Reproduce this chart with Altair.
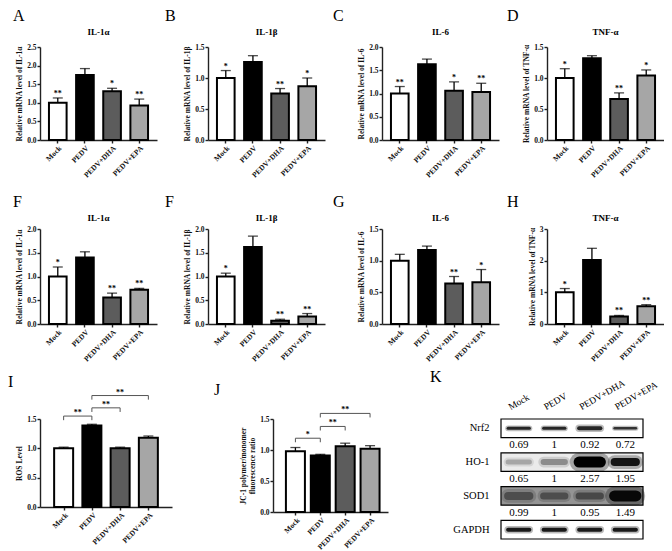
import json
import altair as alt
import pandas as pd

SERIF = "Liberation Serif"

groups = ["Mock", "PEDV", "PEDV+DHA", "PEDV+EPA"]
bar_fill = ["#ffffff", "#000000", "#5c5c5c", "#a6a6a6"]

# ---- Row 1 (A-D) ----
A_mean = [1.00, 1.75, 1.31, 0.93]
A_sd = [0.13, 0.17, 0.08, 0.17]
A_sig = ["**", "", "*", "**"]

B_mean = [1.00, 1.26, 0.75, 0.865]
B_sd = [0.12, 0.10, 0.08, 0.135]
B_sig = ["*", "", "**", "*"]

C_mean = [1.00, 1.63, 1.06, 1.03]
C_sd = [0.15, 0.11, 0.19, 0.19]
C_sig = ["**", "", "*", "**"]

D_mean = [1.00, 1.32, 0.66, 1.04]
D_sd = [0.15, 0.04, 0.10, 0.09]
D_sig = ["*", "", "**", "*"]

# ---- Row 2 (E-H) ----
E_mean = [1.00, 1.40, 0.56, 0.72]
E_sd = [0.20, 0.12, 0.09, 0.03]
E_sig = ["*", "", "**", "**"]

F_mean = [1.00, 1.62, 0.07, 0.16]
F_sd = [0.07, 0.23, 0.03, 0.06]
F_sig = ["*", "", "**", "**"]

G_mean = [1.00, 1.17, 0.64, 0.66]
G_sd = [0.10, 0.06, 0.11, 0.20]
G_sig = ["", "", "**", "*"]

H_mean = [1.00, 2.02, 0.24, 0.56]
H_sd = [0.12, 0.37, 0.03, 0.05]
H_sig = ["*", "", "**", "**"]

# ---- Row 3 ----
I_mean = [1.00, 1.39, 1.00, 1.18]
I_sd = [0.02, 0.02, 0.02, 0.03]
I_from = ["Mock", "PEDV", "PEDV"]
I_to = ["PEDV", "PEDV+DHA", "PEDV+EPA"]
I_level = [1.55, 1.69, 1.90]
I_sig = ["**", "**", "**"]

J_mean = [0.98, 0.91, 1.06, 1.02]
J_sd = [0.06, 0.02, 0.05, 0.05]
J_from = ["Mock", "PEDV", "PEDV"]
J_to = ["PEDV", "PEDV+DHA", "PEDV+EPA"]
J_level = [1.19, 1.38, 1.59]
J_sig = ["*", "**", "**"]

# ---- Western blot (K) ----
proteins = ["Nrf2", "HO-1", "SOD1", "GAPDH"]
Nrf2_ratio = [0.69, 1, 0.92, 0.72]
HO1_ratio = [0.65, 1, 2.57, 1.95]
SOD1_ratio = [0.99, 1, 0.95, 1.49]
Nrf2_dark = [0.85, 0.85, 0.85, 0.80]
HO1_dark = [0.35, 0.45, 1.00, 0.92]
SOD1_dark = [0.70, 0.70, 0.72, 0.97]
GAPDH_dark = [0.90, 0.90, 0.90, 0.90]
Nrf2_thick = [3, 3, 4, 2.5]
HO1_thick = [5, 6, 11, 8]
SOD1_thick = [8, 7, 7, 11]
GAPDH_thick = [4, 4, 4, 4]
blot_background = [0.0, 0.08, 0.42, 0.0]


def grey(level):
    v = int(round(255 * (1 - level)))
    return "#{0:02x}{0:02x}{0:02x}".format(v)


def letter_layer(letter, dx, dy):
    return alt.Chart(pd.DataFrame({"t": [letter]})).mark_text(
        font=SERIF, fontSize=16, align="left", baseline="alphabetic", color="black"
    ).encode(x=alt.value(dx), y=alt.value(dy), text="t:N")


XLAB = dict(title=None, labelAngle=-45, labelAlign="right", labelBaseline="top",
            labelFontSize=7.5, labelPadding=1, labelOverlap=False, labelFlush=False)


def bar_panel(letter, name, ytitle, mean, sd, sig, ymax, yticks, yfmt,
              W, H, letter_dx, letter_dy, name_dy):
    df = pd.DataFrame({"group": groups, "mean": mean,
                       "top": [m + s for m, s in zip(mean, sd)], "sig": sig})
    xscale = alt.Scale(domain=groups, paddingInner=0.35, paddingOuter=0.33)
    xaxis = alt.Axis(**XLAB)
    yscale = alt.Scale(domain=[0, ymax], nice=False, zero=True)
    yaxis = alt.Axis(title=ytitle, values=yticks, format=yfmt, labelOverlap=False)
    base = alt.Chart(df)
    xenc = alt.X("group:N", sort=groups, scale=xscale, axis=xaxis)
    bars = base.mark_bar(stroke="black", strokeWidth=2).encode(
        x=xenc, y=alt.Y("mean:Q", scale=yscale, axis=yaxis),
        fill=alt.Fill("group:N", scale=alt.Scale(domain=groups, range=bar_fill), legend=None))
    err = base.mark_rule(color="black", strokeWidth=1.3).encode(
        x=xenc, y=alt.Y("mean:Q", scale=yscale, axis=yaxis), y2="top:Q")
    cap = base.mark_tick(color="black", thickness=1.3, size=10, orient="horizontal").encode(
        x=xenc, y=alt.Y("top:Q", scale=yscale, axis=yaxis))
    stars = base.mark_text(font=SERIF, fontWeight="bold", fontSize=8,
                           baseline="alphabetic", dy=-2, color="black").encode(
        x=xenc, y=alt.Y("top:Q", scale=yscale, axis=yaxis), text="sig:N")
    ttl = alt.Chart(pd.DataFrame({"t": [name]})).mark_text(
        font=SERIF, fontWeight="bold", fontSize=9, align="center", baseline="alphabetic", color="black"
    ).encode(x=alt.value(W / 2), y=alt.value(name_dy), text="t:N")
    return alt.layer(bars, err, cap, stars, letter_layer(letter, letter_dx, letter_dy), ttl).properties(
        width=W, height=H)


def sig_panel(letter, ytitle, mean, sd, b_from, b_to, b_level, b_sig, W, H,
              xdom, letter_dx, letter_dy, drop):
    df = pd.DataFrame({"idx": list(range(len(groups))), "group": groups, "mean": mean,
                       "top": [m + s for m, s in zip(mean, sd)]})
    i0 = [groups.index(g) for g in b_from]
    i1 = [groups.index(g) for g in b_to]
    br = pd.DataFrame({"a": i0, "b": i1, "h": b_level, "sig": b_sig})
    br["mid"] = (br["a"] + br["b"]) / 2
    br["low"] = br["h"] - drop
    ends = pd.concat([br[["a", "h", "low"]].rename(columns={"a": "x"}),
                      br[["b", "h", "low"]].rename(columns={"b": "x"})])
    expr = json.dumps(groups) + "[datum.value]"
    xscale = alt.Scale(domain=xdom, nice=False, zero=False)
    xaxis = alt.Axis(values=list(range(len(groups))), labelExpr=expr, grid=False, **XLAB)
    yscale = alt.Scale(domain=[0, 1.5], nice=False, zero=True)
    yaxis = alt.Axis(title=ytitle, values=[0, 0.5, 1.0, 1.5], format=".1f", labelOverlap=False)
    xenc = alt.X("idx:Q", scale=xscale, axis=xaxis)
    base = alt.Chart(df)
    bars = base.mark_bar(stroke="black", strokeWidth=2, width=19).encode(
        x=xenc, y=alt.Y("mean:Q", scale=yscale, axis=yaxis),
        fill=alt.Fill("group:N", scale=alt.Scale(domain=groups, range=bar_fill), legend=None))
    err = base.mark_rule(color="black", strokeWidth=1.3).encode(
        x=xenc, y=alt.Y("mean:Q", scale=yscale, axis=yaxis), y2="top:Q")
    cap = base.mark_tick(color="black", thickness=1.3, size=10, orient="horizontal").encode(
        x=xenc, y=alt.Y("top:Q", scale=yscale, axis=yaxis))
    bb = alt.Chart(br)
    hline = bb.mark_rule(color="#555", strokeWidth=1).encode(
        x=alt.X("a:Q", scale=xscale, axis=xaxis), x2="b:Q", y=alt.Y("h:Q", scale=yscale, axis=yaxis))
    vline = alt.Chart(ends).mark_rule(color="#555", strokeWidth=1).encode(
        x=alt.X("x:Q", scale=xscale, axis=xaxis), y=alt.Y("h:Q", scale=yscale, axis=yaxis), y2="low:Q")
    txt = bb.mark_text(font=SERIF, fontWeight="bold", fontSize=8, baseline="alphabetic",
                       dy=-1, color="black").encode(
        x=alt.X("mid:Q", scale=xscale, axis=xaxis), y=alt.Y("h:Q", scale=yscale, axis=yaxis), text="sig:N")
    return alt.layer(bars, err, cap, hline, vline, txt,
                     letter_layer(letter, letter_dx, letter_dy)).properties(width=W, height=H)


def blot_panel(W, H, letter_dx, letter_dy):
    darks = [Nrf2_dark, HO1_dark, SOD1_dark, GAPDH_dark]
    thicks = [Nrf2_thick, HO1_thick, SOD1_thick, GAPDH_thick]
    rows = []
    for p, dk, th in zip(proteins, darks, thicks):
        for i, g in enumerate(groups):
            rows.append({"protein": p, "lane": g, "idx": i, "col": grey(dk[i]),
                         "thick": th[i], "halo": th[i] * 1.6 + 1,
                         "lo": i - 0.30, "hi": i + 0.30})
    bands = pd.DataFrame(rows)
    frame = pd.DataFrame({"protein": proteins,
                          "bg": [grey(b) for b in blot_background],
                          "lo": [-0.5] * len(proteins),
                          "hi": [len(groups) - 0.5] * len(proteins)})
    nums = []
    for p, vals in zip(proteins[:3], [Nrf2_ratio, HO1_ratio, SOD1_ratio]):
        for i, v in enumerate(vals):
            nums.append({"protein": p, "idx": i, "label": f"{v:g}"})
    nums = pd.DataFrame(nums)
    heads = pd.DataFrame({"idx": list(range(len(groups))), "lane": groups,
                          "protein": [proteins[0]] * len(groups)})

    xscale = alt.Scale(domain=[-0.5, len(groups) - 0.5], nice=False, zero=False)
    yscale = alt.Scale(domain=proteins, paddingInner=0.45, paddingOuter=0)
    yaxis = alt.Axis(title=None, domain=False, ticks=False, labelFont=SERIF,
                     labelFontWeight="normal", labelFontSize=10.5, labelColor="black",
                     labelPadding=12)
    xenc = alt.X("lo:Q", scale=xscale, axis=None)
    yenc = alt.Y("protein:N", sort=proteins, scale=yscale, axis=yaxis)
    box = alt.Chart(frame).mark_rect(stroke="black", strokeWidth=1.2).encode(
        x=xenc, x2="hi:Q", y=yenc, fill=alt.Fill("bg:N", scale=None))
    halo = alt.Chart(bands).mark_rule(strokeCap="round", opacity=0.3).encode(
        x=xenc, x2="hi:Q", y=yenc,
        strokeWidth=alt.StrokeWidth("halo:Q", scale=None),
        stroke=alt.Stroke("col:N", scale=None))
    band = alt.Chart(bands).mark_rule(strokeCap="round").encode(
        x=xenc, x2="hi:Q", y=yenc,
        strokeWidth=alt.StrokeWidth("thick:Q", scale=None),
        stroke=alt.Stroke("col:N", scale=None))
    numtxt = alt.Chart(nums).mark_text(font=SERIF, fontSize=11, dy=17, color="black").encode(
        x=alt.X("idx:Q", scale=xscale, axis=None), y=yenc, text="label:N")
    head = alt.Chart(heads).mark_text(font=SERIF, fontSize=9.5, align="left", baseline="alphabetic",
                                      angle=330, xOffset=-8, yOffset=-18, color="black").encode(
        x=alt.X("idx:Q", scale=xscale, axis=None), y=yenc, text="lane:N")
    return alt.layer(box, halo, band, numtxt, head, letter_layer("K", letter_dx, letter_dy)).properties(
        width=W, height=H)


W = 117
t05 = [0, 0.5, 1.0, 1.5, 2.0, 2.5]
row1 = alt.hconcat(
    bar_panel("A", "IL-1α", "Relative mRNA level of IL-1α", A_mean, A_sd, A_sig, 2.5, t05, ".1f", W, 93, -27, -26, -12),
    bar_panel("B", "IL-1β", "Relative mRNA level of IL-1β", B_mean, B_sd, B_sig, 1.5, t05[:4], ".1f", W, 93, -43, -26, -12),
    bar_panel("C", "IL-6", "Relative mRNA level of IL-6", C_mean, C_sd, C_sig, 2.0, t05[:5], ".1f", W, 93, -49, -26, -12),
    bar_panel("D", "TNF-α", "Relative mRNA level of TNF-α", D_mean, D_sd, D_sig, 1.5, t05[:4], ".1f", W, 93, -40, -26, -12),
    spacing=8,
)
row2 = alt.hconcat(
    bar_panel("F", "IL-1α", "Relative mRNA level of IL-1α", E_mean, E_sd, E_sig, 2.0, t05[:5], ".1f", W, 95, -27, -22, -8),
    bar_panel("F", "IL-1β", "Relative mRNA level of IL-1β", F_mean, F_sd, F_sig, 2.0, t05[:5], ".1f", W, 95, -43, -22, -8),
    bar_panel("G", "IL-6", "Relative mRNA level of IL-6", G_mean, G_sd, G_sig, 1.5, t05[:4], ".1f", W, 95, -49, -22, -8),
    bar_panel("H", "TNF-α", "Relative mRNA level of TNF-α", H_mean, H_sd, H_sig, 3, [0, 1, 2, 3], "d", W, 95, -40, -22, -8),
    spacing=8,
)
row3 = alt.hconcat(
    sig_panel("I", "ROS Level", I_mean, I_sd, I_from, I_to, I_level, I_sig, 132, 88,
              [-0.66, 3.66], -32, -32, 0.07),
    sig_panel("J", ["JC-1 polymer/monomer", "fluorescence ratio"], J_mean, J_sd, J_from, J_to,
              J_level, J_sig, 115, 93, [-0.7, 3.52], -59, -24, 0.065),
    blot_panel(142, 120, -71, -37),
    spacing=42,
)

chart = alt.vconcat(alt.vconcat(row1, row2, spacing=15), row3, spacing=6, padding=0).configure_view(
    stroke=None
).configure_axis(
    domainColor="#222", domainWidth=1.4, tickColor="#222", tickWidth=1.4, tickSize=3,
    labelFont=SERIF, labelFontWeight="bold", labelFontSize=7.5, labelColor="#111", labelPadding=1,
    titleFont=SERIF, titleFontWeight="bold", titleFontSize=7.5, titleColor="#111", titlePadding=3,
    grid=False,
)

chart.save("out.html", embed_options={"renderer": "svg", "actions": False})
